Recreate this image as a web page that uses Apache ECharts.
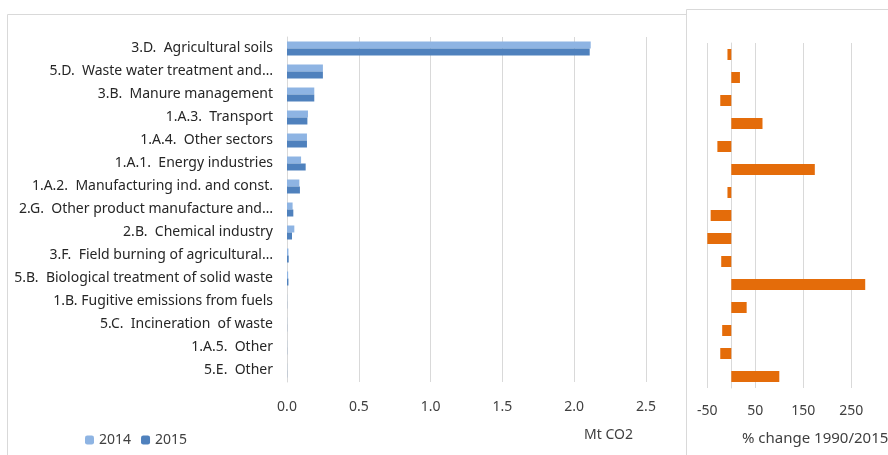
<!DOCTYPE html>
<html>
<head>
<meta charset="utf-8">
<script src="https://cdn.jsdelivr.net/npm/echarts@6/dist/echarts.min.js"></script>
</head>
<body style="margin:0">
<div id="main" style="width:888px;height:455px"></div>
<script>
var categories = [
  '3.D.  Agricultural soils',
  '5.D.  Waste water treatment and\u2026',
  '3.B.  Manure management',
  '1.A.3.  Transport',
  '1.A.4.  Other sectors',
  '1.A.1.  Energy industries',
  '1.A.2.  Manufacturing ind. and const.',
  '2.G.  Other product manufacture and\u2026',
  '2.B.  Chemical industry',
  '3.F.  Field burning of agricultural\u2026',
  '5.B.  Biological treatment of solid waste',
  '1.B. Fugitive emissions from fuels',
  '5.C.  Incineration  of waste',
  '1.A.5.  Other',
  '5.E.  Other'
];
var values2014 = [2.115, 0.25, 0.19, 0.146, 0.139, 0.098, 0.086, 0.039, 0.051, 0.01, 0.008, 0.001, 0.001, 0.001, 0.001];
var values2015 = [2.108, 0.25, 0.19, 0.142, 0.139, 0.13, 0.09, 0.044, 0.035, 0.012, 0.01, 0.001, 0.001, 0.001, 0.001];
var pctChange = [-8, 18, -23, 65, -29, 174, -8, -43, -50, -21, 279, 32, -19, -23, 100];
var leftTicks = ['0.0', '0.5', '1.0', '1.5', '2.0', '2.5'];

var font = "'Noto Sans', sans-serif";
var grey = '#d9d9d9';

var chart = echarts.init(document.getElementById('main'));
chart.setOption({
  animation: false,
  textStyle: { fontFamily: font },
  graphic: [
    { type: 'rect', shape: { x: 7.5, y: 14.5, width: 679, height: 460 }, style: { fill: 'none', stroke: grey, lineWidth: 1 }, z: -1 },
    { type: 'rect', shape: { x: 686.5, y: 9.5, width: 220, height: 460 }, style: { fill: '#fff', stroke: grey, lineWidth: 1 }, z: -1 },
    { type: 'text', left: 584, top: 428, style: { text: 'Mt CO2', font: '14px ' + font, fill: '#404040' } },
    { type: 'text', left: 742, top: 431, style: { text: '% change 1990/2015', font: '15px ' + font, fill: '#404040' } }
  ],
  legend: {
    left: 80, top: 428,
    itemWidth: 9, itemHeight: 9, itemGap: 10,
    textStyle: { fontSize: 14, color: '#404040', fontFamily: font },
    data: ['2014', '2015']
  },
  grid: [
    { left: 287, top: 37, width: 359, height: 345, outerBoundsMode: 'none' },
    { left: 707.3, top: 43, width: 192, height: 345, outerBoundsMode: 'none' }
  ],
  xAxis: [
    {
      gridIndex: 0, type: 'value', min: 0, max: 2.5, interval: 0.5,
      axisLine: { show: false }, axisTick: { show: false },
      splitLine: { lineStyle: { color: grey } },
      axisLabel: { color: '#404040', fontSize: 14, margin: 18, formatter: function (v) { return leftTicks[Math.round(v / 0.5)]; } }
    },
    {
      gridIndex: 1, type: 'value', min: -50, max: 350, interval: 100,
      axisLine: { show: false }, axisTick: { show: false },
      splitLine: { lineStyle: { color: grey } },
      axisLabel: { color: '#404040', fontSize: 14, margin: 16, showMaxLabel: false }
    }
  ],
  yAxis: [
    {
      gridIndex: 0, type: 'category', data: categories, inverse: true,
      axisLine: { lineStyle: { color: grey } }, axisTick: { show: false },
      axisLabel: { color: '#262626', fontSize: 14, margin: 14 }
    },
    {
      gridIndex: 1, type: 'category', data: categories, inverse: true,
      axisLine: { onZero: true, lineStyle: { color: grey } }, axisTick: { show: false },
      axisLabel: { show: false }
    }
  ],
  series: [
    { name: '2014', type: 'bar', xAxisIndex: 0, yAxisIndex: 0, data: values2014, barWidth: 7, barGap: '0%', itemStyle: { color: '#8eb4e3' } },
    { name: '2015', type: 'bar', xAxisIndex: 0, yAxisIndex: 0, data: values2015, barWidth: 7, barGap: '0%', itemStyle: { color: '#4f81bd' } },
    { name: 'pct', type: 'bar', xAxisIndex: 1, yAxisIndex: 1, data: pctChange, barWidth: 11, itemStyle: { color: '#e46c0a' } }
  ]
});
</script>
</body>
</html>
